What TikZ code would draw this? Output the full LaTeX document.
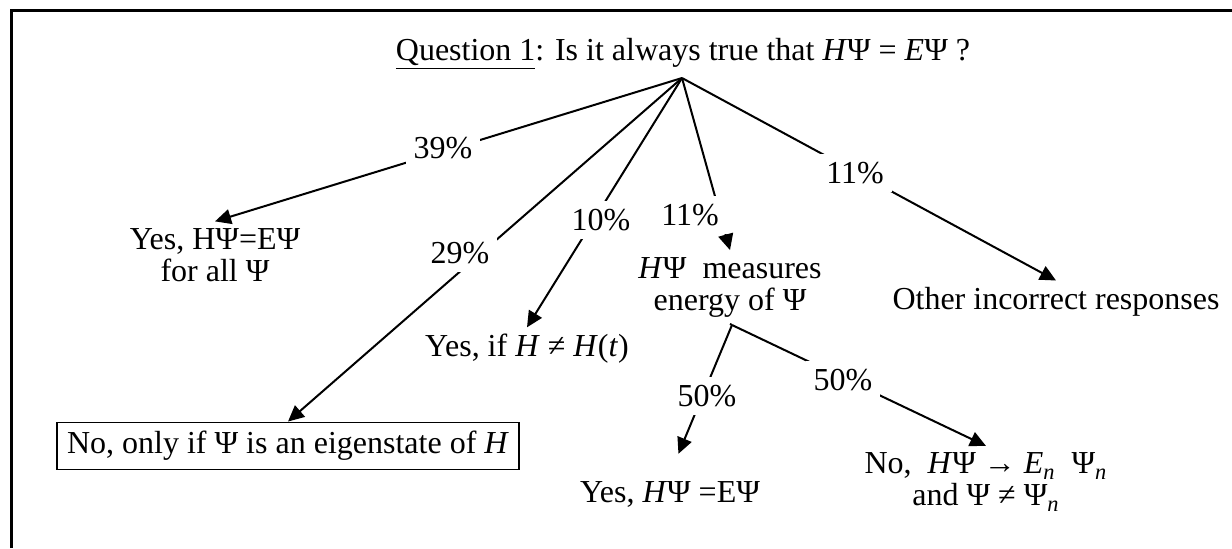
\documentclass[tikz,border=0pt]{standalone}
\usepackage{fontspec}
\setmainfont{Liberation Serif}
\usetikzlibrary{arrows.meta}

\begin{document}
\begin{tikzpicture}[x=0.5pt, y=-0.5pt, >={Triangle[length=8pt,width=7.5pt]}, line width=1pt,
    every node/.style={font=\fontsize{16}{16}\selectfont, inner sep=3pt, align=center},
    pct/.style={fill=white, inner sep=4pt}]
  \useasboundingbox (0,0) rectangle (1232,548);
  \draw[line width=1.5pt] (11,548) -- (11,10) -- (1232,10);
  \node[anchor=base] (title) at (683,60) {\underline{Question 1}: Is it always true that \textit{H}Ψ = \textit{E}Ψ ?};
  \coordinate (apex) at (682,78);
  \node (yesall) at (215,255) {Yes, HΨ=EΨ\\for all Ψ};
  \node[draw, line width=0.75pt, inner xsep=5pt, inner ysep=4.5pt] (onlyif) at (288,446)
        {No, only if Ψ is an eigenstate of \textit{H}};
  \node (ifconst) at (527,349) {Yes, if \textit{H} ≠ \textit{H}(\textit{t})};
  \node (measures) at (730,287) {\textit{H}Ψ\ \ measures\\energy of Ψ};
  \node (other) at (1056,302) {Other incorrect responses};
  \coordinate (split) at (732,325);
  \node (yeseq) at (670,494) {Yes, \textit{H}Ψ =EΨ};
  \node (noeq) at (986,482) {No,\ \ \textit{H}Ψ → \textit{E}\textsubscript{\textit{n}}\ \ Ψ\textsubscript{\textit{n}}\\and Ψ ≠ Ψ\textsubscript{\textit{n}}};
  \draw[->] (apex) -- (yesall.north);
  \draw[->] (apex) -- (onlyif.north);
  \draw[->] (apex) -- (ifconst.north);
  \draw[->] (apex) -- (measures.north);
  \draw[->] (apex) -- (other.north);
  \draw (measures.south) -- (split);
  \draw[->, shorten >=11pt] (split) -- (yeseq.north);
  \draw[->] (split) -- (noeq.north);
  \node[pct] (p39) at (443,148) {39\%};
  \node[pct] (p29) at (460,253) {29\%};
  \node[pct] (p10) at (601,220) {10\%};
  \node[pct] (p11a) at (690,215) {11\%};
  \node[pct] (p11b) at (855,173) {11\%};
  \node[pct] (p50a) at (707,396) {50\%};
  \node[pct] (p50b) at (843,380) {50\%};
\end{tikzpicture}
\end{document}
